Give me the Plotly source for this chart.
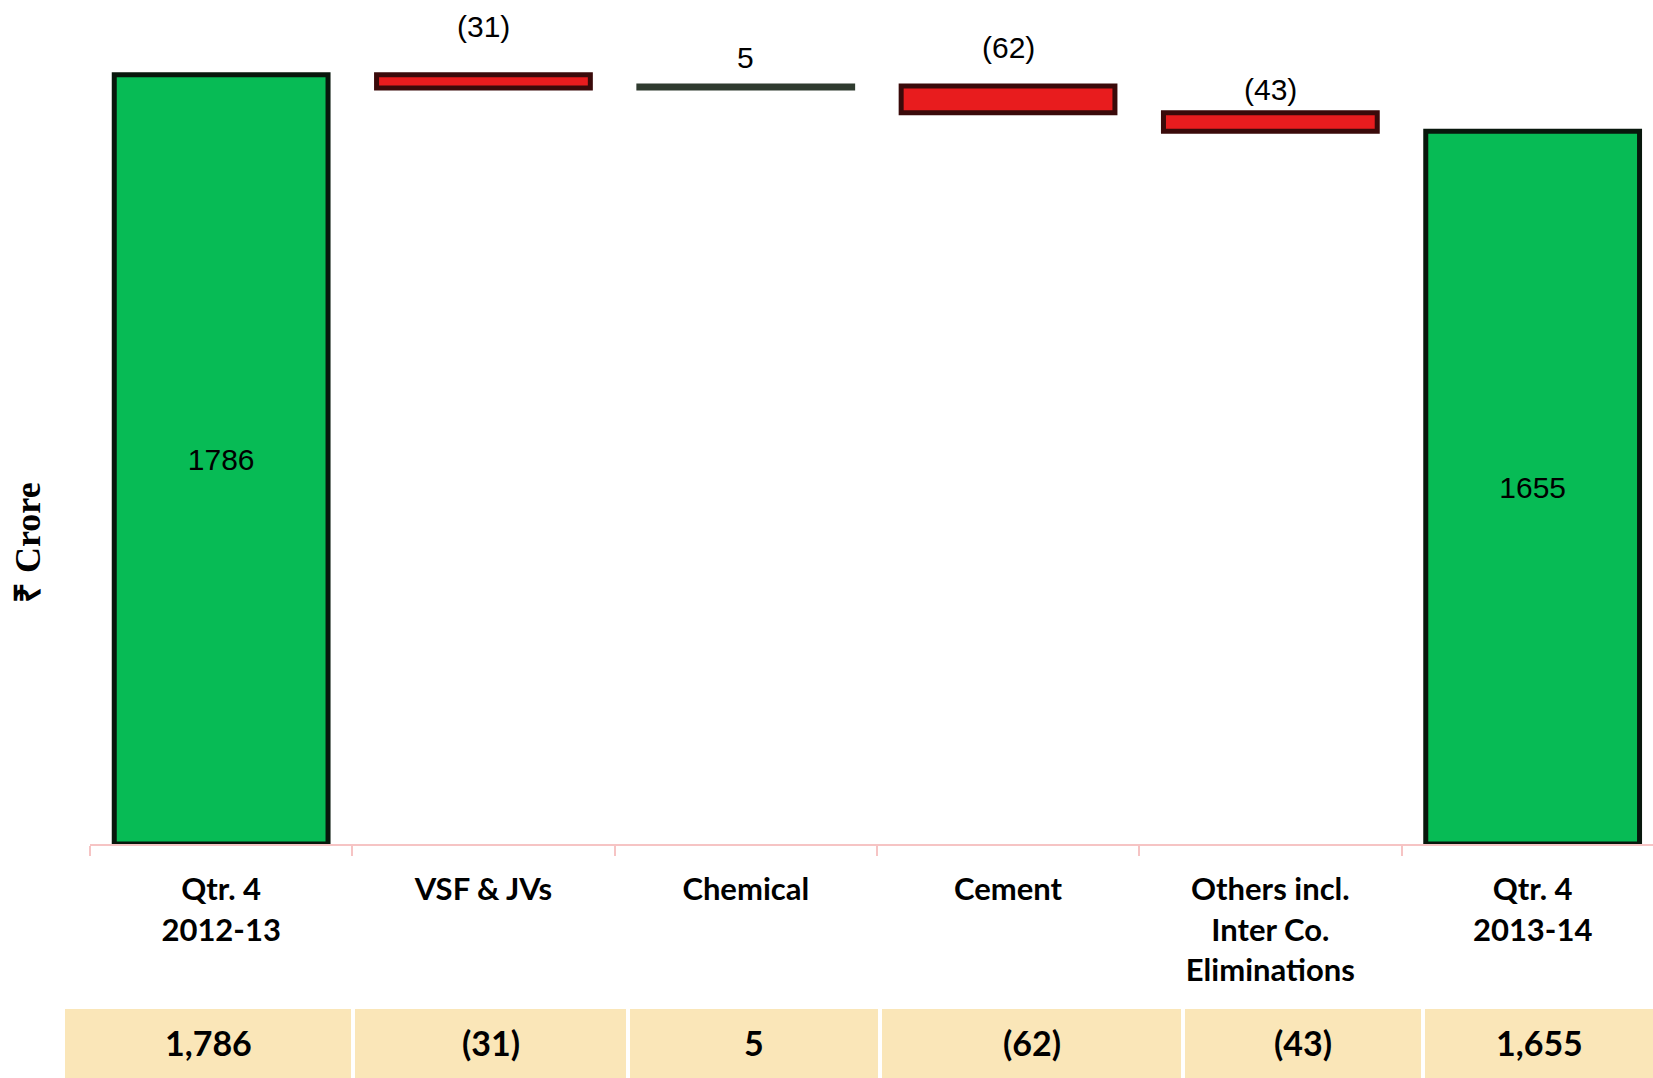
import plotly.graph_objects as go

# Bridge from Qtr. 4 2012-13 to Qtr. 4 2013-14 (₹ Crore)
categories = ["Qtr. 4 2012-13", "VSF & JVs", "Chemical", "Cement",
              "Others incl. Inter Co. Eliminations", "Qtr. 4 2013-14"]
tick_labels = ["Qtr. 4<br>2012-13", "VSF & JVs", "Chemical", "Cement",
               "Others incl.<br>Inter Co.<br>Eliminations", "Qtr. 4<br>2013-14"]
values = [1786, -31, 5, -62, -43, 1655]
measures = ["absolute", "relative", "relative", "relative", "relative", "total"]

W, H = 1653, 1078
L_MARGIN, B_MARGIN = 90, 234
PLOT_W, PLOT_H = W - L_MARGIN, H - B_MARGIN
CAT_PX = 262.3  # pixel width of one category slot


def fmt_paren(v, thousands=False):
    s = f"{abs(v):,}" if thousands else f"{abs(v)}"
    return f"({s})" if v < 0 else s


# cumulative bases for the floating bars
bases, heights, kinds = [], [], []
running = 0
for v, m in zip(values, measures):
    if m == "absolute":
        bases.append(0); heights.append(v); running = v; kinds.append("total")
    elif m == "total":
        bases.append(0); heights.append(running); kinds.append("total")
    else:
        bases.append(running + min(v, 0)); heights.append(abs(v))
        running += v
        kinds.append("up" if v > 0 else "down")

fill = {"total": "#07BB55", "down": "#E81C1E", "up": "#2F3B2F"}
edge = {"total": "#08170C", "down": "#3A0A0A", "up": "#2F3B2F"}

fig = go.Figure()
fig.add_trace(go.Bar(
    x=categories,
    y=heights,
    base=bases,
    width=0.815,
    marker=dict(color=[fill[k] for k in kinds],
                line=dict(color=[edge[k] for k in kinds], width=5)),
    text=[str(v) if k == "total" else "" for v, k in zip(values, kinds)],
    textposition="inside",
    insidetextanchor="middle",
    textangle=0,
    textfont=dict(family="Liberation Sans, Arial, sans-serif", size=30, color="#000000"),
    hoverinfo="skip",
))

# change labels floating above the bridge bars
label_lift = [0, 48, 28, 38, 23, 0]
annotations = []
for i, (c, v, k) in enumerate(zip(categories, values, kinds)):
    if k == "total":
        continue
    annotations.append(dict(
        x=c, y=bases[i] + heights[i], xref="x", yref="y",
        text=fmt_paren(v), showarrow=False, yshift=label_lift[i],
        xanchor="center", yanchor="middle",
        font=dict(family="Liberation Sans, Arial, sans-serif", size=30, color="#000000"),
    ))


def px_x(px):
    return (px - L_MARGIN) / PLOT_W


def px_y(py):
    return (PLOT_H - py) / PLOT_H


# value strip beneath the axis
cell_edges = [(65, 351), (355, 626), (630, 878), (882, 1181), (1185, 1421), (1425, 1653)]
shapes = []
for (x0, x1), v in zip(cell_edges, values):
    shapes.append(dict(type="rect", xref="paper", yref="paper",
                       x0=px_x(x0), x1=px_x(x1), y0=px_y(1009), y1=px_y(1078),
                       fillcolor="#FAE6B8", line=dict(width=0), layer="below"))
    annotations.append(dict(
        x=px_x((x0 + x1) / 2), y=px_y(1042), xref="paper", yref="paper",
        xanchor="center", yanchor="middle",
        text=f"<b>{fmt_paren(v, thousands=True)}</b>", showarrow=False,
        font=dict(family="Lato, Open Sans, sans-serif", size=34, color="#000000"),
    ))

# axis title
annotations.append(dict(
    x=px_x(28), y=px_y(543), xref="paper", yref="paper",
    xanchor="center", yanchor="middle",
    text="<b>₹ Crore</b>", textangle=-90, showarrow=False,
    font=dict(family="Liberation Serif, Times New Roman, serif", size=36, color="#000000"),
))

fig.update_layout(
    width=W, height=H,
    margin=dict(l=L_MARGIN, r=0, t=0, b=B_MARGIN, pad=0),
    paper_bgcolor="#FFFFFF", plot_bgcolor="#FFFFFF",
    showlegend=False,
    annotations=annotations,
    shapes=shapes,
    xaxis=dict(
        type="category",
        range=[-0.5, -0.5 + PLOT_W / CAT_PX],
        tickmode="array", tickvals=categories, ticktext=[f"<b>{t}</b>" for t in tick_labels],
        tickson="boundaries", ticks="outside", ticklen=10, tickwidth=1.5,
        tickcolor="#F6C4C4",
        showline=True, linecolor="#F6C4C4", linewidth=2,
        showgrid=False, zeroline=False,
        ticklabelstandoff=17,
        tickfont=dict(family="Lato, Open Sans, sans-serif", size=31, color="#000000"),
    ),
    yaxis=dict(
        range=[0, PLOT_H / 0.4307],
        visible=False, showgrid=False, zeroline=False,
    ),
)

fig.write_html("out.html")
